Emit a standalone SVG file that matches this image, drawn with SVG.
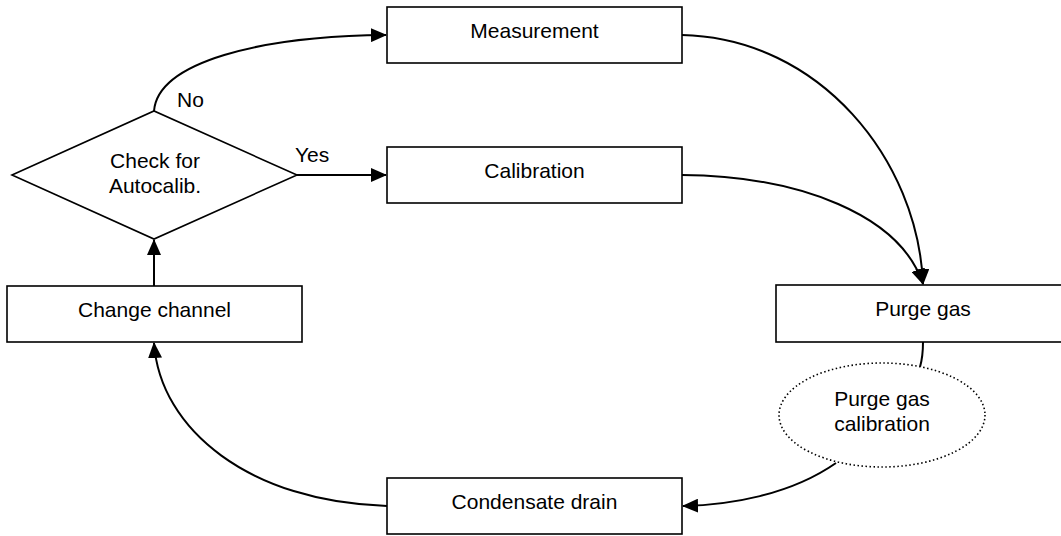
<svg xmlns="http://www.w3.org/2000/svg" width="1061" height="536" viewBox="0 0 1061 536">
<style>
.box{fill:#fff;stroke:#000;stroke-width:1.6}
.t{font-family:"Liberation Sans",Arial,sans-serif;font-size:21px;fill:#000;text-anchor:middle}
.tl{font-family:"Liberation Sans",Arial,sans-serif;font-size:21px;fill:#000}
.c{fill:none;stroke:#000;stroke-width:2}
.dot{fill:#fff;stroke:#000;stroke-width:1.6;stroke-dasharray:1.5 2.5}
</style>
<defs>
<marker id="ah" markerUnits="userSpaceOnUse" markerWidth="16" markerHeight="14" refX="15" refY="7" orient="auto">
<path d="M0,0 L16,7 L0,14 Z" fill="#000"/>
</marker>
</defs>
<rect width="1061" height="536" fill="#fff"/>
<g id="connectors">
<path class="c" d="M154,111 C158,62 260,36 386,35" marker-end="url(#ah)"/>
<path class="c" d="M297,175 L386,175" marker-end="url(#ah)"/>
<path class="c" d="M682,35 C820,38 918,160 923,284" marker-end="url(#ah)"/>
<path class="c" d="M682,175 C800,176 900,215 923,284" marker-end="url(#ah)"/>
<path class="c" d="M923,342 C923,352 922,360 920,367"/>
<path class="c" d="M836,463 C790,495 730,505 683,506" marker-end="url(#ah)"/>
<path class="c" d="M387,506 C250,502 160,430 154,343" marker-end="url(#ah)"/>
<path class="c" d="M154,286 L154,240" marker-end="url(#ah)"/>
</g>
<g id="decision">
<polygon class="box" points="12,175 154,111 297,175 154,239"/>
<text class="t" x="155" y="168">Check for</text>
<text class="t" x="155" y="193">Autocalib.</text>
</g>
<g id="labels">
<text class="tl" x="177" y="107">No</text>
<text class="tl" x="295" y="162">Yes</text>
</g>
<g id="measurement">
<rect class="box" x="387" y="7" width="295" height="56"/>
<text class="t" x="534.5" y="38">Measurement</text>
</g>
<g id="calibration">
<rect class="box" x="387" y="147" width="295" height="56"/>
<text class="t" x="534.5" y="178">Calibration</text>
</g>
<g id="purge-gas">
<rect class="box" x="776" y="285" width="295" height="57"/>
<text class="t" x="923" y="316">Purge gas</text>
</g>
<g id="purge-gas-calibration">
<ellipse class="dot" cx="882" cy="415" rx="103" ry="52"/>
<text class="t" x="882" y="406">Purge gas</text>
<text class="t" x="882" y="431">calibration</text>
</g>
<g id="condensate-drain">
<rect class="box" x="387" y="478" width="295" height="56"/>
<text class="t" x="534.5" y="509">Condensate drain</text>
</g>
<g id="change-channel">
<rect class="box" x="7" y="286" width="295" height="56"/>
<text class="t" x="154.5" y="317">Change channel</text>
</g>
</svg>
